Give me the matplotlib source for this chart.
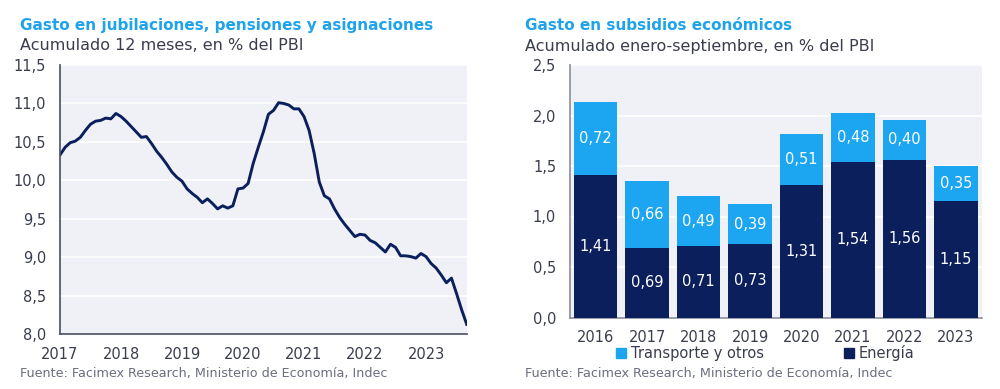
import matplotlib
matplotlib.use("Agg")
import matplotlib.pyplot as plt
import numpy as np
from matplotlib.ticker import FuncFormatter, FixedLocator
from matplotlib.patches import Patch

plt.rcParams['font.family'] = ['DejaVu Sans']

# ---- Data: left chart (monthly, Jan 2017 - Sep 2023) ----
pension_pct_gdp = [
    10.33, 10.43, 10.49, 10.51, 10.56, 10.65, 10.73, 10.77, 10.78, 10.81, 10.80, 10.87,
    10.83, 10.77, 10.70, 10.63, 10.56, 10.57, 10.48, 10.38, 10.30, 10.21, 10.11, 10.04,
    9.99, 9.89, 9.83, 9.78, 9.71, 9.76, 9.70, 9.63, 9.67, 9.64, 9.67, 9.89,
    9.90, 9.96, 10.22, 10.43, 10.63, 10.86, 10.91, 11.01, 11.00, 10.98, 10.93, 10.93,
    10.83, 10.65, 10.35, 9.98, 9.80, 9.76, 9.63, 9.52, 9.43, 9.35, 9.27, 9.30,
    9.29, 9.22, 9.19, 9.13, 9.07, 9.17, 9.13, 9.02, 9.02, 9.01, 8.99, 9.05,
    9.01, 8.92, 8.86, 8.77, 8.67, 8.73, 8.53, 8.32, 8.13,
]
year_ticks = ["2017", "2018", "2019", "2020", "2021", "2022", "2023"]
left_yticks = [8.0, 8.5, 9.0, 9.5, 10.0, 10.5, 11.0, 11.5]

# ---- Data: right chart ----
years = ["2016", "2017", "2018", "2019", "2020", "2021", "2022", "2023"]
energia = [1.41, 0.69, 0.71, 0.73, 1.31, 1.54, 1.56, 1.15]
transporte = [0.72, 0.66, 0.49, 0.39, 0.51, 0.48, 0.40, 0.35]
right_yticks = [0.0, 0.5, 1.0, 1.5, 2.0, 2.5]

# ---- Styles ----
NAVY = "#0b1f5c"
LIGHT = "#1ca6f2"
TITLE_BLUE = "#1fa3ea"
TEXT = "#3a3d4d"
BG = "#eff1f6"
SPINE = "#4a4e5e"

W, H = 1000, 389
fig = plt.figure(figsize=(W / 100, H / 100), dpi=100)

def box(l, t, r, b):
    return [l / W, 1 - b / H, (r - l) / W, (b - t) / H]

comma = FuncFormatter(lambda v, p: f"{v:.1f}".replace(".", ","))

# ---- Left chart ----
ax1 = fig.add_axes(box(60, 65, 466.7, 334.3))
ax1.set_facecolor(BG)
x = np.arange(len(pension_pct_gdp))
ax1.plot(x, pension_pct_gdp, color=NAVY, lw=2.1, solid_joinstyle="round")
ax1.set_xlim(0, 80)
ax1.set_ylim(8.0, 11.5)
ax1.yaxis.set_major_locator(FixedLocator(left_yticks))
ax1.yaxis.set_major_formatter(comma)
ax1.set_xticks(np.arange(len(year_ticks)) * 12)
ax1.set_xticklabels(year_ticks)
ax1.grid(axis="y", color="white", lw=1.2)
ax1.set_axisbelow(True)
for s in ["top", "right"]:
    ax1.spines[s].set_visible(False)
for s in ["left", "bottom"]:
    ax1.spines[s].set_color(SPINE)
    ax1.spines[s].set_linewidth(1.2)
ax1.tick_params(length=0, labelsize=10.5, colors=TEXT, pad=9)
ax1.tick_params(axis="y", pad=10)

# ---- Right chart ----
ax2 = fig.add_axes(box(570, 65, 981.7, 317.5))
ax2.set_facecolor(BG)
pos = np.arange(len(years))
bw = 0.845
ax2.bar(pos, energia, bw, color=NAVY, label="Energía", zorder=3)
ax2.bar(pos, transporte, bw, bottom=energia, color=LIGHT,
        label="Transporte y otros", zorder=3)
for i in range(len(years)):
    ax2.text(pos[i], energia[i] / 2, f"{energia[i]:.2f}".replace(".", ","),
             ha="center", va="center", color="white", fontsize=10.5, zorder=4)
    ax2.text(pos[i], energia[i] + transporte[i] / 2,
             f"{transporte[i]:.2f}".replace(".", ","),
             ha="center", va="center", color="white", fontsize=10.5, zorder=4)
ax2.set_xlim(-0.5, 7.5)
ax2.set_ylim(0, 2.5)
ax2.yaxis.set_major_locator(FixedLocator(right_yticks))
ax2.yaxis.set_major_formatter(comma)
ax2.set_xticks(pos)
ax2.set_xticklabels(years)
ax2.grid(axis="y", color="white", lw=1.2, zorder=0)
ax2.set_axisbelow(True)
for s in ["top", "right"]:
    ax2.spines[s].set_visible(False)
for s in ["left", "bottom"]:
    ax2.spines[s].set_color("#8a8e9c")
    ax2.spines[s].set_linewidth(1.2)
ax2.tick_params(length=0, labelsize=10.5, colors=TEXT, pad=9)
ax2.tick_params(axis="y", pad=10)

handles = [Patch(color=LIGHT, label="Transporte y otros"),
           Patch(color=NAVY, label="Energía")]
fig.legend(handles=handles, loc="center", bbox_to_anchor=(0.765, 1 - 353 / H),
           ncol=2, frameon=False, fontsize=10.5, handlelength=0.7,
           handleheight=0.7, handletextpad=0.3, columnspacing=5.5,
           labelcolor=TEXT)

# ---- Titles and texts ----
fig.text(20 / W, 1 - 25.5 / H, "Gasto en jubilaciones, pensiones y asignaciones",
         color=TITLE_BLUE, fontsize=11, fontweight="bold", va="center", ha="left")
fig.text(20 / W, 1 - 46 / H, "Acumulado 12 meses, en % del PBI",
         color=TEXT, fontsize=11.5, va="center", ha="left")
fig.text(525 / W, 1 - 25.5 / H, "Gasto en subsidios económicos",
         color=TITLE_BLUE, fontsize=11, fontweight="bold", va="center", ha="left")
fig.text(525 / W, 1 - 46 / H, "Acumulado enero-septiembre, en % del PBI",
         color=TEXT, fontsize=11.5, va="center", ha="left")
fig.text(20 / W, 1 - 373.5 / H, "Fuente: Facimex Research, Ministerio de Economía, Indec",
         color="#6a6e7e", fontsize=9.2, va="center", ha="left")
fig.text(525 / W, 1 - 373.5 / H, "Fuente: Facimex Research, Ministerio de Economía, Indec",
         color="#6a6e7e", fontsize=9.2, va="center", ha="left")

fig.savefig("out.png", dpi=100, facecolor="white")
